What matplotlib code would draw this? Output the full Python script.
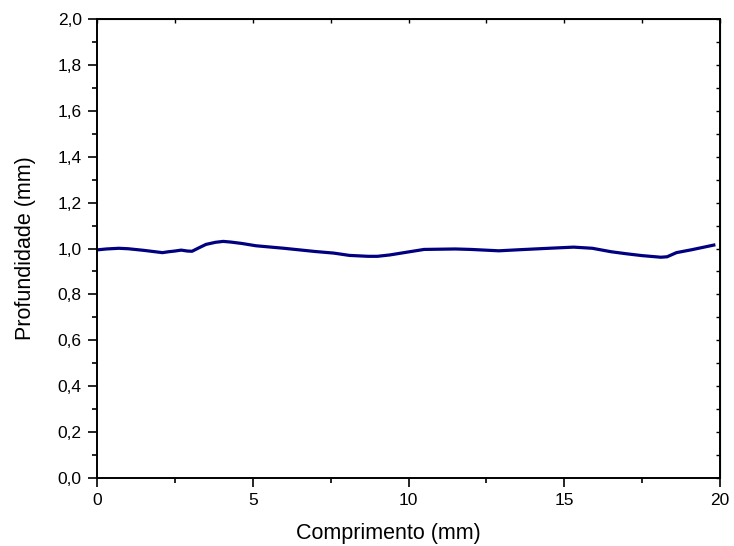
import matplotlib
matplotlib.use('Agg')
import matplotlib.pyplot as plt
from matplotlib.ticker import FuncFormatter, MultipleLocator

plt.rcParams['font.family'] = ['Liberation Sans', 'DejaVu Sans']

LINE_COLOR = '#000080'
TICK_FONT_SIZE = 12.5
LABEL_FONT_SIZE = 15.5

# profile (x in mm, depth in mm)
comprimento = [0.0, 0.3, 0.7, 1.0, 1.5, 2.1, 2.3, 2.5, 2.7, 2.9, 3.05, 3.3, 3.5,
               3.8, 4.05, 4.3, 4.65, 5.1, 6.0, 7.0, 7.6, 8.1, 8.7, 9.0, 9.4, 9.9,
               10.5, 11.5, 12.0, 12.9, 13.6, 14.5, 15.3, 15.9, 16.5, 17.0, 17.5,
               18.1, 18.3, 18.6, 19.1, 19.8]
profundidade = [0.994, 0.998, 1.001, 0.999, 0.992, 0.982, 0.986, 0.989, 0.993, 0.989,
                0.988, 1.005, 1.018, 1.027, 1.031, 1.028, 1.022, 1.012, 1.001, 0.987,
                0.980, 0.970, 0.966, 0.966, 0.972, 0.983, 0.996, 0.998, 0.996, 0.990,
                0.995, 1.001, 1.006, 1.001, 0.986, 0.977, 0.969, 0.962, 0.964, 0.982,
                0.995, 1.015]

fig = plt.figure(figsize=(7.34, 5.46), dpi=100)
ax = fig.add_axes([0.1322, 0.1245, 0.8488, 0.8407])

ax.plot(comprimento, profundidade, color=LINE_COLOR, linewidth=2.3)

ax.set_xlim(0, 20)
ax.set_ylim(0, 2.0)
ax.xaxis.set_major_locator(MultipleLocator(5))
ax.xaxis.set_minor_locator(MultipleLocator(2.5))
ax.yaxis.set_major_locator(MultipleLocator(0.2))
ax.yaxis.set_minor_locator(MultipleLocator(0.1))
ax.xaxis.set_major_formatter(FuncFormatter(lambda v, p: '%d' % round(v)))
ax.yaxis.set_major_formatter(FuncFormatter(lambda v, p: ('%.1f' % v).replace('.', ',')))

for s in ax.spines.values():
    s.set_linewidth(1.4)

ax.tick_params(which='major', direction='out', length=6.5, width=1.2,
               labelsize=TICK_FONT_SIZE, pad=4.5)
ax.tick_params(which='minor', direction='out', length=3.5, width=1.2)

# mirrored ticks on top and right, pointing inward
top = ax.secondary_xaxis('top')
top.xaxis.set_major_locator(MultipleLocator(5))
top.xaxis.set_minor_locator(MultipleLocator(2.5))
top.tick_params(which='both', direction='in', length=3, width=1.0, labeltop=False)
right = ax.secondary_yaxis('right')
right.yaxis.set_major_locator(MultipleLocator(0.2))
right.yaxis.set_minor_locator(MultipleLocator(0.1))
right.tick_params(which='both', direction='in', length=3, width=1.0, labelright=False)

ax.set_xlabel('Comprimento (mm)', fontsize=LABEL_FONT_SIZE)
ax.set_ylabel('Profundidade (mm)', fontsize=LABEL_FONT_SIZE)
ax.xaxis.label.set_va('center')
ax.yaxis.label.set_va('center')
ax.xaxis.set_label_coords(0.467, -0.12)
ax.yaxis.set_label_coords(-0.1156, 0.5)

fig.savefig('out.png', dpi=100)
